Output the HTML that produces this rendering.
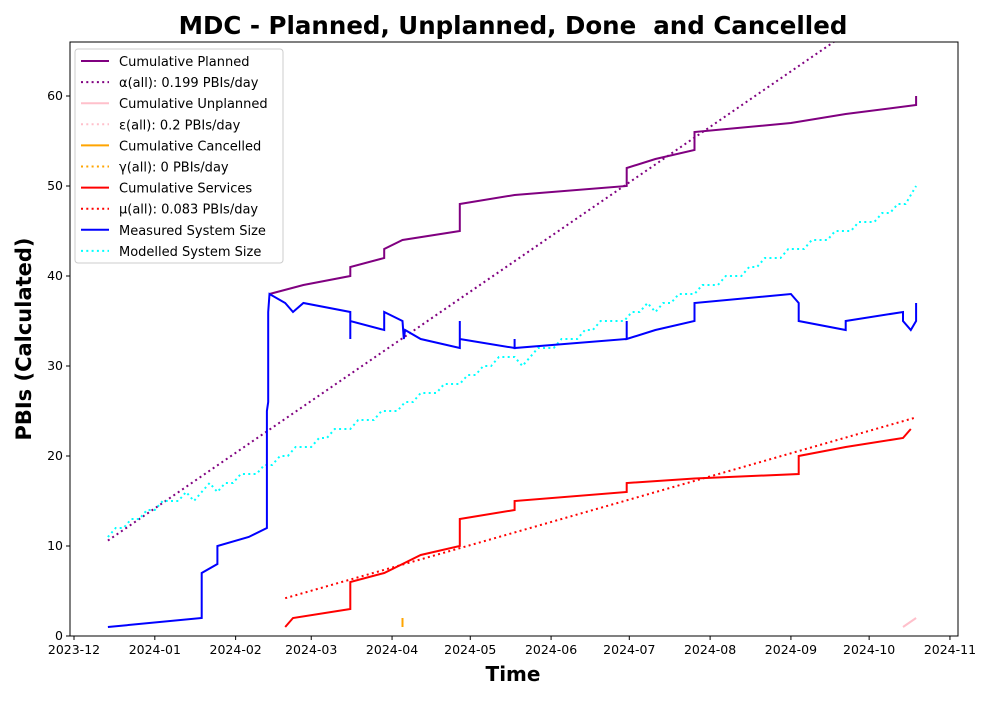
<!DOCTYPE html>
<html><head><meta charset="utf-8"><style>
body{margin:0;background:#fff;font-family:"Liberation Sans","DejaVu Sans",sans-serif}
svg text{font-family:"DejaVu Sans","Liberation Sans",sans-serif;white-space:pre}
</style></head><body>
<svg id="chart" width="1000" height="700" xmlns="http://www.w3.org/2000/svg"></svg>
<script>
const measuredDays=[13,49,49,55,55,67,74,74,74.5,74.5,75,81,84,88,106,106,106,119,119,126,126.5,127,133,148,148,148,169,169,169,212,212,212,223,238,238,275,278,278,296,296,318,318,321,323,323];
const measuredVals=[1,2,7,8,10,11,12,25,26,36,38,37,36,37,36,33,35,34,36,35,33,34,33,32,35,33,32,33,32,33,35,33,34,35,37,38,37,35,34,35,36,35,34,35,37];
const plannedDays=[75,88,106,106,119,119,126,148,148,169,212,212,223,238,238,275,296,323,323];
const plannedVals=[38,39,40,41,42,43,44,45,48,49,50,52,53,54,56,57,58,59,60];
const servDays=[81,84,106,106,119,126,133,148,148,169,169,212,212,238,278,278,296,318,321];
const servVals=[1,2,3,6,7,8,9,10,13,14,15,16,17,17.5,18,20,21,22,23];
const modelDays=[13,16,19,22,25,28,31,34,37,40,43,46,49,52,55,58,61,64,67,70,73,76,79,82,85,88,91,94,97,100,103,106,109,112,115,118,121,124,127,130,133,136,139,142,145,148,151,154,157,160,163,166,169,172,175,178,181,184,187,190,193,196,199,202,205,208,211,214,217,220,223,226,229,232,235,238,241,244,247,250,253,256,259,262,265,268,271,274,277,280,283,286,289,292,295,298,301,304,307,310,313,316,319,321,323];
const modelVals=[11,12,12,13,13,14,14,15,15,15,16,15,16,17,16,17,17,18,18,18,19,19,20,20,21,21,21,22,22,23,23,23,24,24,24,25,25,25,26,26,27,27,27,28,28,28,29,29,30,30,31,31,31,30,31,32,32,32,33,33,33,34,34,35,35,35,35,36,36,37,36,37,37,38,38,38,39,39,39,40,40,40,41,41,42,42,42,43,43,43,44,44,44,45,45,45,46,46,46,47,47,48,48,49,50];
const cancelDays=[126,126];const cancelVals=[1,2];
const unplDays=[318,323];const unplVals=[1,2];
const alphaStart=[13,11],alphaRate=0.199;
const muStart=[81,4.2],muEnd=323,muRate=0.083;
const xTickLabels=["2023-12","2024-01","2024-02","2024-03","2024-04","2024-05","2024-06","2024-07","2024-08","2024-09","2024-10","2024-11"];
const xTickDays=[0,31,62,91,122,152,183,213,244,275,305,336];
const yTicks=[0,10,20,30,40,50,60];
const legendLabels=["Cumulative Planned","α(all): 0.199 PBIs/day","Cumulative Unplanned","ε(all): 0.2 PBIs/day","Cumulative Cancelled","γ(all): 0 PBIs/day","Cumulative Services","μ(all): 0.083 PBIs/day","Measured System Size","Modelled System Size"];

const L=70,R=958,T=42,B=636;
const X=d=>74+d*2.607, Y=v=>636-v*9;
const svg=document.getElementById('chart');const NS="http://www.w3.org/2000/svg";
function mk(tag,attrs,parent){const e=document.createElementNS(NS,tag);for(const k in attrs)e.setAttribute(k,attrs[k]);(parent||svg).appendChild(e);return e;}
const clip=mk('clipPath',{id:'pc'});mk('rect',{x:L,y:T,width:R-L,height:B-T},clip);
const g=mk('g',{'clip-path':'url(#pc)'});
function line(ds,vs,color,dash,name,w){const p=ds.map((d,i)=>X(d).toFixed(1)+','+Y(vs[i]).toFixed(1)).join(' ');
const e=mk('polyline',{points:p,fill:'none',stroke:color,'stroke-width':w||2,'stroke-dasharray':dash||'none','stroke-linejoin':'miter'},g);

}
const aEnd=345;
line([alphaStart[0],aEnd],[alphaStart[1]-0.4,alphaStart[1]-0.4+alphaRate*(aEnd-alphaStart[0])],'purple','2,3.3','alpha-trend');
line([muStart[0],muEnd],[muStart[1],muStart[1]+muRate*(muEnd-muStart[0])],'red','2,3.3','mu-trend');
line(modelDays,modelVals,'cyan','2,3.3','modelled-system-size');
line(plannedDays,plannedVals,'purple',null,'cumulative-planned');
line(unplDays,unplVals,'pink',null,'cumulative-unplanned');
line(cancelDays,cancelVals,'orange',null,'cumulative-cancelled');
line(servDays,servVals,'red',null,'cumulative-services');
line(measuredDays,measuredVals,'blue',null,'measured-system-size');
const frame=mk('rect',{x:L,y:T,width:R-L,height:B-T,fill:'none',stroke:'#000','stroke-width':1});


xTickDays.forEach((d,i)=>{const x=X(d);mk('line',{x1:x,x2:x,y1:B,y2:B+4,stroke:'#000'});
const t=mk('text',{x:x,y:B+18,'text-anchor':'middle','font-size':12.5});t.textContent=xTickLabels[i];

});
yTicks.forEach(v=>{const y=Y(v);mk('line',{x1:L-4,x2:L,y1:y,y2:y,stroke:'#000'});
const t=mk('text',{x:L-7,y:y+4,'text-anchor':'end','font-size':12.5});t.textContent=v;

});
const title=mk('text',{x:513,y:34,'text-anchor':'middle','font-size':24.5,'font-weight':'bold'});title.textContent="MDC - Planned, Unplanned, Done  and Cancelled";


const xl=mk('text',{x:513,y:681,'text-anchor':'middle','font-size':20,'font-weight':'bold'});xl.textContent="Time";


const yl=mk('text',{x:0,y:0,'text-anchor':'middle','font-size':21,'font-weight':'bold',transform:'translate(31,339) rotate(-90)'});yl.textContent="PBIs (Calculated)";


const lg=mk('g',{});


mk('rect',{x:75,y:49,width:208,height:214,rx:3,fill:'#fff','fill-opacity':0.85,stroke:'#ccc'},lg);
const lc=['purple','purple','pink','pink','orange','orange','red','red','blue','cyan'];
legendLabels.forEach((s,i)=>{const y=61+i*21.1;
mk('line',{x1:81,x2:109,y1:y,y2:y,stroke:lc[i],'stroke-width':2,'stroke-dasharray':i%2&&i<8||i==9?'2,3.3':'none'},lg);
const t=mk('text',{x:119,y:y+5,'font-size':13},lg);t.textContent=s;

});
</script>
</body></html>
